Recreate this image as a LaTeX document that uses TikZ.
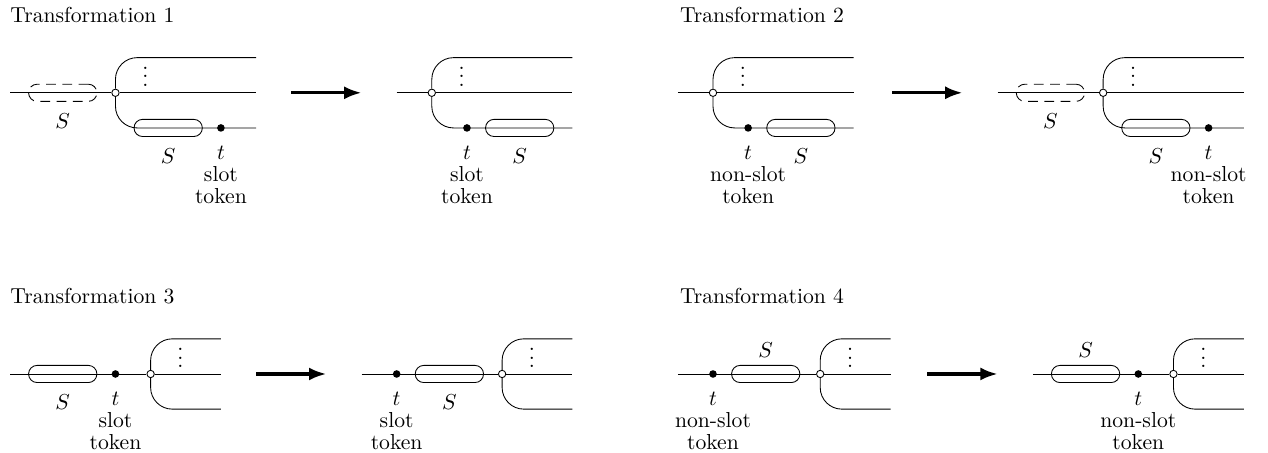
\documentclass[tikz,border=0pt]{standalone}
\usetikzlibrary{arrows.meta,positioning}

\begin{document}
\begin{tikzpicture}[x=0.57cm, y=0.57cm,
  hub/.style={circle, draw, fill=white, inner sep=0pt, minimum size=3.4pt},
  tok/.style={circle, fill, inner sep=0pt, minimum size=3.5pt},
  seg/.style={rectangle, draw, rounded corners=3.9pt, minimum width=31.5pt, minimum height=7.9pt, inner sep=0pt},
  ghost/.style={seg, dash pattern=on 4.5pt off 3pt},
  lab/.style={align=center},
  title/.style={anchor=base west, inner sep=0pt},
  dots/.style={inner sep=0pt, yshift=2.3pt},
  trans/.style={-{Latex[length=8pt,width=6pt]}, line width=1.5pt},
  branch/.style={rounded corners=10pt}]
\useasboundingbox (-0.285,-2.248) rectangle (35.79,10.64);

% Transformation 1
\node[title] (T1) at (0,10) {Transformation 1};
\coordinate (s1a) at (0,8);
\coordinate (e1a) at (7,8);
\coordinate (u1a) at (7,9);
\coordinate (l1a) at (7,7);
\node[ghost] (g1a) at (1.5,8) {};
\node[hub] (h1a) at (3,8) {};
\node[seg] (p1a) at (4.5,7) {};
\node[tok] (t1a) at (6,7) {};
\node[dots] (d1a) at (3.85,8.5) {$\vdots$};
\node[below=2pt of g1a] (g1aS) {$S$};
\node[below=2pt of p1a] (p1aS) {$S$};
\node[lab, below=3pt of t1a] (t1aL) {$t$\\[-2pt]slot\\[-2pt]token};
\draw (s1a) -- (h1a) -- (e1a);
\draw[branch] (h1a) |- (u1a);
\draw[branch] (h1a) |- (l1a);

\coordinate (a1s) at (8,8);
\coordinate (a1e) at (10,8);
\draw[trans] (a1s) -- (a1e);

\coordinate (s1b) at (11,8);
\coordinate (e1b) at (16,8);
\coordinate (u1b) at (16,9);
\coordinate (l1b) at (16,7);
\node[hub] (h1b) at (12,8) {};
\node[tok] (t1b) at (13,7) {};
\node[seg] (p1b) at (14.5,7) {};
\node[dots] (d1b) at (12.85,8.5) {$\vdots$};
\node[lab, below=3pt of t1b] (t1bL) {$t$\\[-2pt]slot\\[-2pt]token};
\node[below=2pt of p1b] (p1bS) {$S$};
\draw (s1b) -- (h1b) -- (e1b);
\draw[branch] (h1b) |- (u1b);
\draw[branch] (h1b) |- (l1b);

% Transformation 2
\node[title] (T2) at (19.05,10) {Transformation 2};
\coordinate (s2a) at (19,8);
\coordinate (e2a) at (24,8);
\coordinate (u2a) at (24,9);
\coordinate (l2a) at (24,7);
\node[hub] (h2a) at (20,8) {};
\node[tok] (t2a) at (21,7) {};
\node[seg] (p2a) at (22.5,7) {};
\node[dots] (d2a) at (20.85,8.5) {$\vdots$};
\node[lab, below=3pt of t2a] (t2aL) {$t$\\[-2pt]non-slot\\[-2pt]token};
\node[below=2pt of p2a] (p2aS) {$S$};
\draw (s2a) -- (h2a) -- (e2a);
\draw[branch] (h2a) |- (u2a);
\draw[branch] (h2a) |- (l2a);

\coordinate (a2s) at (25.1,8);
\coordinate (a2e) at (27.1,8);
\draw[trans] (a2s) -- (a2e);

\coordinate (s2b) at (28.1,8);
\coordinate (e2b) at (35.1,8);
\coordinate (u2b) at (35.1,9);
\coordinate (l2b) at (35.1,7);
\node[ghost] (g2b) at (29.6,8) {};
\node[hub] (h2b) at (31.1,8) {};
\node[seg] (p2b) at (32.6,7) {};
\node[tok] (t2b) at (34.1,7) {};
\node[dots] (d2b) at (31.95,8.5) {$\vdots$};
\node[below=2pt of g2b] (g2bS) {$S$};
\node[below=2pt of p2b] (p2bS) {$S$};
\node[lab, below=3pt of t2b] (t2bL) {$t$\\[-2pt]non-slot\\[-2pt]token};
\draw (s2b) -- (h2b) -- (e2b);
\draw[branch] (h2b) |- (u2b);
\draw[branch] (h2b) |- (l2b);

% Transformation 3
\node[title] (T3) at (0,2) {Transformation 3};
\coordinate (s3a) at (0,0);
\coordinate (e3a) at (6,0);
\coordinate (u3a) at (6,1);
\coordinate (l3a) at (6,-1);
\node[seg] (p3a) at (1.5,0) {};
\node[tok] (t3a) at (3,0) {};
\node[hub] (h3a) at (4,0) {};
\node[dots] (d3a) at (4.85,0.5) {$\vdots$};
\node[below=2pt of p3a] (p3aS) {$S$};
\node[lab, below=3pt of t3a] (t3aL) {$t$\\[-2pt]slot\\[-2pt]token};
\draw (s3a) -- (h3a) -- (e3a);
\draw[branch] (h3a) |- (u3a);
\draw[branch] (h3a) |- (l3a);

\coordinate (a3s) at (7,0);
\coordinate (a3e) at (9,0);
\draw[trans] (a3s) -- (a3e);

\coordinate (s3b) at (10,0);
\coordinate (e3b) at (16,0);
\coordinate (u3b) at (16,1);
\coordinate (l3b) at (16,-1);
\node[tok] (t3b) at (11,0) {};
\node[seg] (p3b) at (12.5,0) {};
\node[hub] (h3b) at (14,0) {};
\node[dots] (d3b) at (14.85,0.5) {$\vdots$};
\node[lab, below=3pt of t3b] (t3bL) {$t$\\[-2pt]slot\\[-2pt]token};
\node[below=2pt of p3b] (p3bS) {$S$};
\draw (s3b) -- (h3b) -- (e3b);
\draw[branch] (h3b) |- (u3b);
\draw[branch] (h3b) |- (l3b);

% Transformation 4
\node[title] (T4) at (19.05,2) {Transformation 4};
\coordinate (s4a) at (19,0);
\coordinate (e4a) at (25.05,0);
\coordinate (u4a) at (25.05,1);
\coordinate (l4a) at (25.05,-1);
\node[tok] (t4a) at (20,0) {};
\node[seg] (p4a) at (21.5,0) {};
\node[hub] (h4a) at (23.05,0) {};
\node[dots] (d4a) at (23.9,0.5) {$\vdots$};
\node[lab, below=3pt of t4a] (t4aL) {$t$\\[-2pt]non-slot\\[-2pt]token};
\node[above=0pt of p4a] (p4aS) {$S$};
\draw (s4a) -- (h4a) -- (e4a);
\draw[branch] (h4a) |- (u4a);
\draw[branch] (h4a) |- (l4a);

\coordinate (a4s) at (26.1,0);
\coordinate (a4e) at (28.1,0);
\draw[trans] (a4s) -- (a4e);

\coordinate (s4b) at (29.1,0);
\coordinate (e4b) at (35.1,0);
\coordinate (u4b) at (35.1,1);
\coordinate (l4b) at (35.1,-1);
\node[seg] (p4b) at (30.6,0) {};
\node[tok] (t4b) at (32.1,0) {};
\node[hub] (h4b) at (33.1,0) {};
\node[dots] (d4b) at (33.95,0.5) {$\vdots$};
\node[above=0pt of p4b] (p4bS) {$S$};
\node[lab, below=3pt of t4b] (t4bL) {$t$\\[-2pt]non-slot\\[-2pt]token};
\draw (s4b) -- (h4b) -- (e4b);
\draw[branch] (h4b) |- (u4b);
\draw[branch] (h4b) |- (l4b);
\end{tikzpicture}
\end{document}
